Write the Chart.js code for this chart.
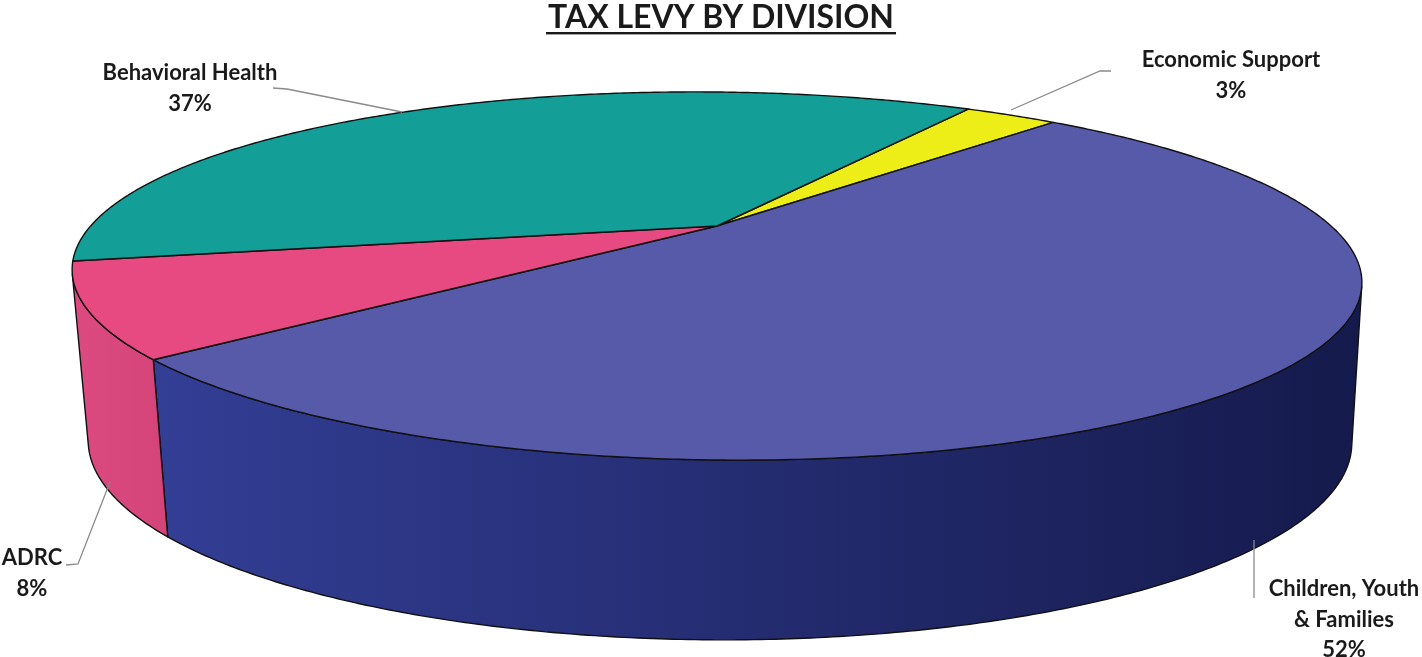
<!DOCTYPE html>
<html>
<head>
<meta charset="utf-8">
<script src="https://cdn.jsdelivr.net/npm/chart.js@4/dist/chart.umd.min.js"></script>
<style>
  html, body { margin: 0; padding: 0; background: #ffffff; overflow: hidden; }
  #levy { display: block; }
</style>
</head>
<body>
<canvas id="levy" width="1422" height="657"></canvas>
<script>
// ---- data ----
const chartTitle = 'TAX LEVY BY DIVISION';
const categories = ['Economic Support', 'Children, Youth & Families', 'ADRC', 'Behavioral Health'];
const shares = [3, 52, 8, 37];
// how each category name is broken onto lines in its label
const nameLines = [['Economic Support'], ['Children, Youth', '& Families'], ['ADRC'], ['Behavioral Health']];

// ---- styling ----
const topColors  = ['#EDED17', '#5759A9', '#E74A80', '#139F97'];
const wallColors = [['#D8D810', '#C9C90C'], ['#333E95', '#151A4C'], ['#DC4A80', '#D44479'], ['#0F8A83', '#0C7A74']];

// Perspective geometry of the tilted disc (screen px); the centre comes from the chart
const topRim = { A: 620.6, B: 170.4, dx: 0, dy: 0, tilt: 0.010 };
const bottomRim = { A: 608, B: 183.4, dx: 3, dy: 162, tilt: 0.002 };
const perspective = -0.2718; // front of the disc is nearer

// Label anchors and leader lines
const labelPos = [
  { x: 1231, y: 60, leader: [[1111, 71], [1100, 71], [1011, 110]] },
  { x: 1344, y: 589, leader: [[1254, 598], [1254, 540]] },
  { x: 32, y: 558, leader: [[66, 565], [78, 564], [110, 482]] },
  { x: 190, y: 73, leader: [[273, 88], [287, 89], [402, 112]] }
];

function rimPoint(rim, cx, cy, t) {
  const u = Math.cos(t), v = Math.sin(t);
  const w = 1 + perspective * v;
  const ox = cx + rim.dx, oy = cy + rim.dy;
  const x = ox + rim.A * u / w;
  const y = oy + rim.B * v / w + (x - ox) * rim.tilt;
  return [x, y];
}
const project = (cx, cy, t) => rimPoint(topRim, cx, cy, t);
const projectBottom = (cx, cy, t) => rimPoint(bottomRim, cx, cy, t);

// Range of angles whose outer wall faces the viewer
function visibleWall(cx, cy) {
  let lo = null, hi = null;
  const step = Math.PI / 720;
  for (let t = -Math.PI / 2; t <= 1.5 * Math.PI; t += step) {
    const a = project(cx, cy, t - step / 2), b = project(cx, cy, t + step / 2);
    const top = project(cx, cy, t), bot = projectBottom(cx, cy, t);
    const tx = b[0] - a[0], ty = b[1] - a[1];
    const ex = bot[0] - top[0], ey = bot[1] - top[1];
    if (tx * ey - ty * ex < 0) {
      if (lo === null) lo = t;
      hi = t;
    }
  }
  return [lo, hi];
}

function arcPoints(cx, cy, a, b, fn) {
  const pts = [];
  const n = Math.max(2, Math.ceil(Math.abs(b - a) / (Math.PI / 360)));
  for (let i = 0; i <= n; i++) pts.push(fn(cx, cy, a + (b - a) * i / n));
  return pts;
}

const pie3d = {
  id: 'pie3d',
  beforeDatasetsDraw(chart) {
    const ctx = chart.ctx;
    const arcs = chart.getDatasetMeta(0).data;
    if (!arcs.length) return false;
    const cx = arcs[0].x, cy = arcs[0].y;
    const [vLo, vHi] = visibleWall(cx, cy);

    ctx.save();
    ctx.lineJoin = 'round';
    ctx.strokeStyle = '#111111';
    ctx.lineWidth = 1.4;

    // outer walls
    arcs.forEach((arc, i) => {
      for (const shift of [0, -2 * Math.PI, 2 * Math.PI]) {
        const a = Math.max(arc.startAngle + shift, vLo);
        const b = Math.min(arc.endAngle + shift, vHi);
        if (b <= a) continue;
        const top = arcPoints(cx, cy, a, b, project);
        const bot = arcPoints(cx, cy, b, a, projectBottom);
        const xs = top.concat(bot).map(p => p[0]);
        const g = ctx.createLinearGradient(Math.min(...xs), 0, Math.max(...xs), 0);
        g.addColorStop(0, wallColors[i][0]);
        g.addColorStop(1, wallColors[i][1]);
        ctx.beginPath();
        top.concat(bot).forEach((p, j) => j ? ctx.lineTo(p[0], p[1]) : ctx.moveTo(p[0], p[1]));
        ctx.closePath();
        ctx.fillStyle = g;
        ctx.fill();
        ctx.stroke();
      }
    });

    // top faces
    arcs.forEach((arc, i) => {
      const pts = arcPoints(cx, cy, arc.startAngle, arc.endAngle, project);
      ctx.beginPath();
      ctx.moveTo(cx, cy);
      pts.forEach(p => ctx.lineTo(p[0], p[1]));
      ctx.closePath();
      ctx.fillStyle = topColors[i];
      ctx.fill();
      ctx.stroke();
    });
    ctx.restore();
    return false;
  },
  afterDraw(chart) {
    const ctx = chart.ctx;
    ctx.save();
    // title, underlined
    ctx.font = 'bold 32px Lato';
    ctx.fillStyle = '#1a1a1a';
    ctx.textAlign = 'center';
    ctx.textBaseline = 'alphabetic';
    ctx.fillText(chartTitle, 721, 28);
    const tw = ctx.measureText(chartTitle).width;
    ctx.fillRect(721 - tw / 2 - 2, 32, tw + 4, 2.4);

    // leader lines
    ctx.strokeStyle = '#8a8a8a';
    ctx.lineWidth = 1.3;
    labelPos.forEach(lp => {
      ctx.beginPath();
      lp.leader.forEach((p, j) => j ? ctx.lineTo(p[0], p[1]) : ctx.moveTo(p[0], p[1]));
      ctx.stroke();
    });

    // category labels with their share
    ctx.font = 'bold 22px Lato';
    ctx.textBaseline = 'middle';
    const total = shares.reduce((s, v) => s + v, 0);
    categories.forEach((c, i) => {
      const lines = nameLines[i].concat([Math.round(shares[i] / total * 100) + '%']);
      lines.forEach((ln, j) => ctx.fillText(ln, labelPos[i].x, labelPos[i].y + j * 30.5));
    });
    ctx.restore();
  }
};

new Chart(document.getElementById('levy'), {
  type: 'pie',
  data: {
    labels: categories,
    datasets: [{ data: shares, backgroundColor: topColors, borderWidth: 0 }]
  },
  options: {
    responsive: false,
    animation: false,
    rotation: 30,
    layout: { padding: { left: 12, right: 0, top: 0, bottom: 205 } },
    plugins: { legend: { display: false }, tooltip: { enabled: false }, title: { display: false } }
  },
  plugins: [pie3d]
});
</script>
</body>
</html>
